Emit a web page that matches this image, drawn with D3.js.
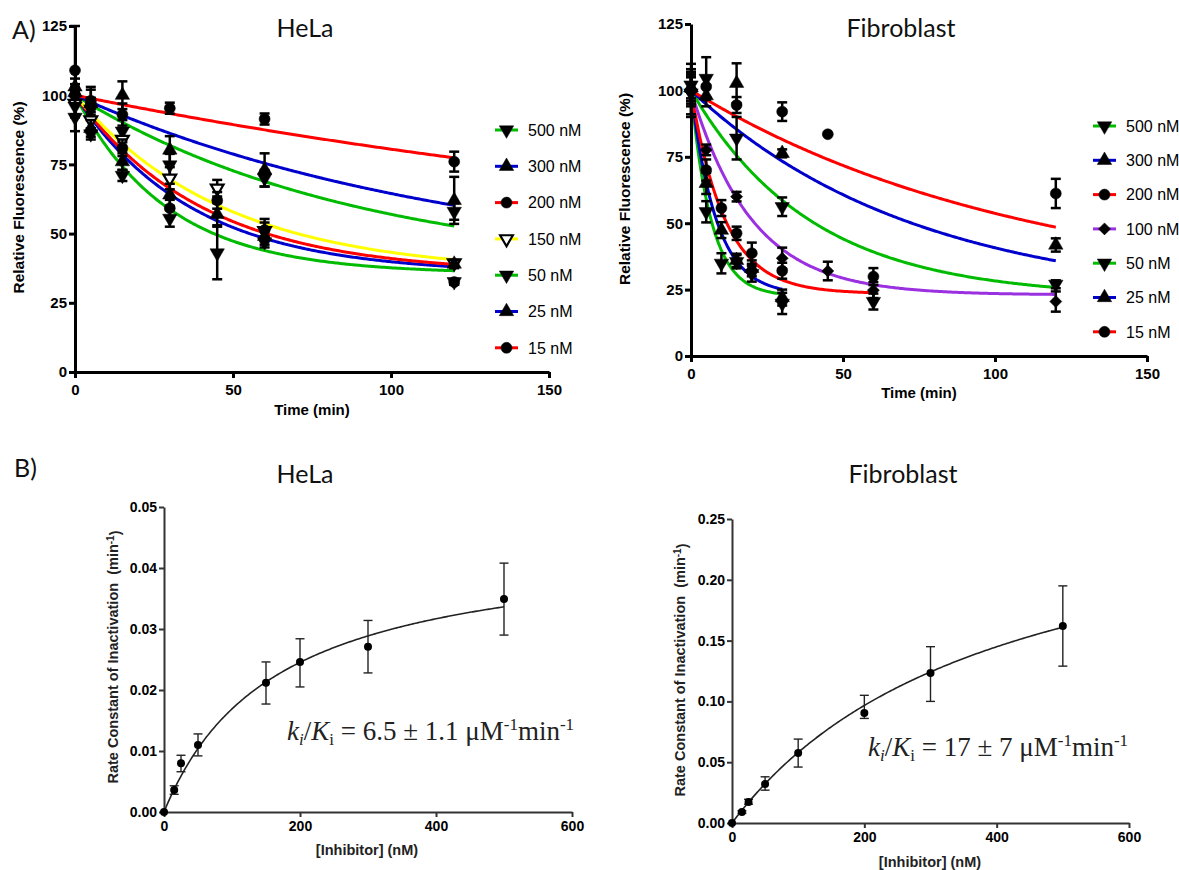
<!DOCTYPE html>
<html><head><meta charset="utf-8">
<script src="https://cdn.jsdelivr.net/npm/d3@7"></script>
<style>body{margin:0;background:#fff} svg{display:block}</style>
</head><body>
<svg id="chart" width="1179" height="870"></svg>
<script>
// ---------------- DATA ----------------
// Panel A, HeLa
const helaConc = ["500 nM","300 nM","200 nM","150 nM","50 nM","25 nM","15 nM"];
const helaColors = ["#00bb00","#0000cc","#ff0000","#ffff00","#00bb00","#0000cc","#ff0000"];
const helaShapes = ["down","up","circle","downOpen","down","up","circle"];
const helaTimes = [0,5,15,30,45,60,120];
const helaMean = [
  [96, 86, 71, 55.5, 43, 47, 32.6],
  [103, 88, 76, 64, 57, 49, 39],
  [100, 97, 81, 59.2, 62, 51.3, 32.5],
  [97, 91, 84, 70, 66.4, 51, 39.4],
  [92, 95, 87, 74.8, null, 70, 58],
  [101, 97, 100, 80.2, null, 73, 62],
  [109, 98, 93, 95.3, null, 91.4, 76]
];
const helaErr = [
  [4, 2, 2, 3, 9.5, 2, 1],
  [3, 3, 3, 4, 4, 3, 1.5],
  [3, 2, 3, 3, 3, 4, 1],
  [4, 3, 4, 4, 3, 3, 1],
  [5, 4, 4, 4, 0, 3, 3],
  [3, 5, 5, 5, 0, 6, 8.5],
  [16, 5, 4, 2, 0, 2, 3.6]
];
// one-phase decay fit parameters (plateau, rate k, last time of fitted curve)
const helaFitPlateau = [35.5, 35.5, 35.5, 35.5, 35.5, 35.5, 35.5];
const helaFitK = [0.034, 0.027, 0.0246, 0.0212, 0.011, 0.008, 0.0036];
const helaFitEnd = [120, 120, 120, 120, 120, 120, 120];

// Panel A, Fibroblast
const fibroConc = ["500 nM","300 nM","200 nM","100 nM","50 nM","25 nM","15 nM"];
const fibroColors = ["#00bb00","#0000cc","#ff0000","#9b30e0","#00bb00","#0000cc","#ff0000"];
const fibroShapes = ["down","up","circle","diamond","down","up","circle"];
const fibroTimes = [0,5,10,15,20,30,45,60,120];
const fibroMean = [
  [99, 54.3, 34.9, 35.5, 31, 19.8, null, 20.5, null],
  [101, 65, 47.4, 36, 33, 22, null, null, null],
  [100, 70, 55.7, 46.2, 38.7, 32.1, null, 29.9, null],
  [100, 77.6, null, 60, null, 36.8, 32, 24.8, 20.5],
  [102, 104.5, null, 82, null, 56.2, null, null, 27],
  [101, 98, null, 102.7, null, 76.3, null, null, 41.8],
  [100, 101.4, null, 94.5, null, 92, 83.5, null, 61.2]
];
const fibroErr = [
  [8, 4, 3.8, 2.5, 3, 4, 0, 3, 0],
  [5, 4, 3, 2.5, 3, 3, 0, 0, 0],
  [6, 4, 3, 2.5, 4, 3, 0, 3.2, 0],
  [5, 2, 0, 1.8, 0, 4, 3.5, 3, 3.8],
  [6, 8, 0, 8, 0, 3.5, 0, 0, 1.5],
  [4, 4, 0, 7.5, 0, 1.5, 0, 0, 2.5],
  [10, 4, 0, 3, 0, 3.5, 0, 0, 5.5]
];
const fibroFitPlateau = [22.5, 23, 23.5, 23, 22, 20, 22];
const fibroFitK = [0.15, 0.12, 0.09, 0.05, 0.0252, 0.0135, 0.009];
const fibroFitEnd = [30, 30, 60, 120, 120, 120, 120];

const timeTicks = [0, 50, 100, 150];
const fluorTicks = [0, 25, 50, 75, 100, 125];

// Panel B, HeLa
const helaBConc = [0, 15, 25, 50, 150, 200, 300, 500];
const helaBRate = [0, 0.0036, 0.0080, 0.0110, 0.0212, 0.0246, 0.0271, 0.0349];
const helaBLow  = [0, 0.0029, 0.0066, 0.0092, 0.0177, 0.0205, 0.0228, 0.0290];
const helaBHigh = [0, 0.0043, 0.0093, 0.0128, 0.0246, 0.0284, 0.0314, 0.0408];
const helaBKinact = 0.0447, helaBKI = 164.5;
const helaBTicks = [0, 0.01, 0.02, 0.03, 0.04, 0.05];

// Panel B, Fibroblast
const fibroBConc = [0, 15, 25, 50, 100, 200, 300, 500];
const fibroBRate = [0, 0.009, 0.0173, 0.032, 0.0575, 0.0905, 0.1234, 0.162];
const fibroBLow  = [0, 0.008, 0.0155, 0.027, 0.046, 0.086, 0.100, 0.129];
const fibroBHigh = [0, 0.010, 0.0195, 0.038, 0.069, 0.105, 0.145, 0.195];
const fibroBKinact = 0.2895, fibroBKI = 399;
const fibroBTicks = [0, 0.05, 0.10, 0.15, 0.20, 0.25];

const concTicks = [0, 200, 400, 600];

// ---------------- DRAWING ----------------
const svg = d3.select("#chart");
const SANS = "'Liberation Sans', Arial, sans-serif";
const TITLE = "Lato, 'Open Sans', sans-serif";
const SERIF = "'Liberation Serif', 'Times New Roman', serif";

function symbolPath(shape) {
  if (shape === "circle") return d3.symbol(d3.symbolCircle, 95)();
  if (shape === "diamond") return d3.symbol(d3.symbolSquare, 72)();
  return d3.symbol(d3.symbolTriangle, 90)();
}
function drawMarker(g, shape, x, y) {
  const rot = (shape === "down" || shape === "downOpen") ? 180 : (shape === "diamond" ? 45 : 0);
  const open = shape === "downOpen";
  g.append("path")
    .attr("d", open ? d3.symbol(d3.symbolTriangle, 70)() : symbolPath(shape))
    .attr("transform", `translate(${x},${y}) rotate(${rot})`)
    .attr("fill", open ? "#fff" : "#000")
    .attr("stroke", "#000")
    .attr("stroke-width", open ? 2.2 : 0.5);
}

function styleAxis(g, width, fontSize) {
  g.select(".domain").attr("stroke", "#000").attr("stroke-width", width);
  g.selectAll(".tick line").attr("stroke", "#000").attr("stroke-width", width);
  g.selectAll(".tick text").attr("fill", "#000")
    .style("font-family", SANS).style("font-weight", "bold").style("font-size", fontSize + "px");
}

function kineticPanel(cfg) {
  const x = d3.scaleLinear().domain([0, 150]).range(cfg.xr);
  const y = d3.scaleLinear().domain([0, 125]).range(cfg.yr);
  const g = svg.append("g");

  // fitted curves
  cfg.conc.forEach((c, i) => {
    const ts = d3.range(0, cfg.fitEnd[i] + 0.001, 0.5);
    const p = cfg.plateau[i], k = cfg.k[i];
    const line = d3.line().x(t => x(t)).y(t => y(p + (100 - p) * Math.exp(-k * t)));
    g.append("path").attr("d", line(ts)).attr("fill", "none")
      .attr("stroke", cfg.colors[i]).attr("stroke-width", 3);
  });

  // axes
  const ax = g.append("g").attr("transform", `translate(0,${cfg.yr[0]})`)
    .call(d3.axisBottom(x).tickValues(timeTicks).tickSize(6).tickSizeOuter(0).tickPadding(6).tickFormat(d3.format("d")));
  styleAxis(ax, 3, 15);
  const ay = g.append("g").attr("transform", `translate(${cfg.xr[0]},0)`)
    .call(d3.axisLeft(y).tickValues(fluorTicks).tickSize(6).tickSizeOuter(0).tickPadding(2).tickFormat(d3.format("d")));
  styleAxis(ay, 3, 15);

  // points with error bars (drawn from bottom of legend order so low concentrations on top)
  for (let i = cfg.conc.length - 1; i >= 0; i--) {
    cfg.times.forEach((t, j) => {
      const m = cfg.mean[i][j];
      if (m === null) return;
      const e = cfg.err[i][j];
      const px = x(t);
      if (e > 0) {
        g.append("line").attr("x1", px).attr("x2", px).attr("y1", y(m - e)).attr("y2", y(m + e))
          .attr("stroke", "#000").attr("stroke-width", 2.5);
        [m - e, m + e].forEach(v => g.append("line").attr("x1", px - 5).attr("x2", px + 5)
          .attr("y1", y(v)).attr("y2", y(v)).attr("stroke", "#000").attr("stroke-width", 2.5));
      }
      drawMarker(g, cfg.shapes[i], px, y(m));
    });
  }

  // legend
  cfg.conc.forEach((c, i) => {
    const ly = cfg.legY0 + i * cfg.legStep;
    g.append("line").attr("x1", cfg.legX).attr("x2", cfg.legX + 23).attr("y1", ly).attr("y2", ly)
      .attr("stroke", cfg.colors[i]).attr("stroke-width", 3);
    drawMarker(g, cfg.shapes[i], cfg.legX + 11.5, ly);
    g.append("text").attr("x", cfg.legX + 33).attr("y", ly).attr("dy", "0.36em")
      .style("font-family", SANS).style("font-size", "16px").text(c);
  });

  // axis titles
  g.append("text").attr("transform", `translate(${cfg.ylabX},${cfg.ylabY}) rotate(-90)`)
    .attr("text-anchor", "middle").attr("dy", "0.35em")
    .style("font-family", SANS).style("font-weight", "bold").style("font-size", "15.5px")
    .text("Relative Fluorescence (%)");
  g.append("text").attr("x", cfg.xlabX).attr("y", cfg.xlabY).attr("text-anchor", "middle").attr("dy", "0.35em")
    .style("font-family", SANS).style("font-weight", "bold").style("font-size", "15px")
    .text("Time (min)");
}

kineticPanel({
  xr: [75, 549], yr: [372, 26], conc: helaConc, colors: helaColors, shapes: helaShapes,
  times: helaTimes, mean: helaMean, err: helaErr,
  plateau: helaFitPlateau, k: helaFitK, fitEnd: helaFitEnd,
  legX: 495, legY0: 130, legStep: 36.3,
  ylabX: 18.5, ylabY: 197.5, xlabX: 312, xlabY: 410
});
kineticPanel({
  xr: [691, 1147], yr: [356, 24], conc: fibroConc, colors: fibroColors, shapes: fibroShapes,
  times: fibroTimes, mean: fibroMean, err: fibroErr,
  plateau: fibroFitPlateau, k: fibroFitK, fitEnd: fibroFitEnd,
  legX: 1093, legY0: 126, legStep: 34.3,
  ylabX: 625, ylabY: 189, xlabX: 919, xlabY: 393
});

function ratePanel(cfg) {
  const x = d3.scaleLinear().domain([0, 600]).range(cfg.xr);
  const y = d3.scaleLinear().domain([0, cfg.yTicks[cfg.yTicks.length - 1]]).range(cfg.yr);
  const g = svg.append("g");

  const cs = d3.range(0, 500.01, 2);
  const line = d3.line().x(c => x(c)).y(c => y(cfg.kinact * c / (cfg.KI + c)));
  g.append("path").attr("d", line(cs)).attr("fill", "none").attr("stroke", "#222").attr("stroke-width", 1.6);

  const ax = g.append("g").attr("transform", `translate(0,${cfg.yr[0]})`)
    .call(d3.axisBottom(x).tickValues(concTicks).tickSize(5).tickSizeOuter(0).tickPadding(4).tickFormat(d3.format("d")));
  styleAxis(ax, 2, 14);
  const ay = g.append("g").attr("transform", `translate(${cfg.xr[0]},0)`)
    .call(d3.axisLeft(y).tickValues(cfg.yTicks).tickSize(5).tickSizeOuter(0).tickPadding(2).tickFormat(d3.format(".2f")));
  styleAxis(ay, 2, 14);
  ax.selectAll(".domain, .tick line").attr("stroke", "#333");
  ay.selectAll(".domain, .tick line").attr("stroke", "#333");

  cfg.conc.forEach((c, i) => {
    const px = x(c);
    if (cfg.high[i] - cfg.low[i] > 0) {
      g.append("line").attr("x1", px).attr("x2", px).attr("y1", y(cfg.low[i])).attr("y2", y(cfg.high[i]))
        .attr("stroke", "#222").attr("stroke-width", 1.4);
      [cfg.low[i], cfg.high[i]].forEach(v => g.append("line").attr("x1", px - 4.5).attr("x2", px + 4.5)
        .attr("y1", y(v)).attr("y2", y(v)).attr("stroke", "#222").attr("stroke-width", 1.4));
    }
    g.append("circle").attr("cx", px).attr("cy", y(cfg.rate[i])).attr("r", 4).attr("fill", "#000");
  });

  // axis titles
  const yl = g.append("text").attr("transform", `translate(${cfg.ylabX},${cfg.ylabY}) rotate(-90)`)
    .attr("text-anchor", "middle").attr("dy", "0.35em")
    .style("font-family", SANS).style("font-weight", "bold").style("font-size", "14.5px").attr("fill", "#222");
  yl.append("tspan").text("Rate Constant of Inactivation\u00a0\u00a0(min");
  yl.append("tspan").attr("dy", "-0.45em").style("font-size", "10px").text("-1");
  yl.append("tspan").attr("dy", "0.45em").text(")");
  g.append("text").attr("x", cfg.xlabX).attr("y", cfg.xlabY).attr("text-anchor", "middle").attr("dy", "0.35em")
    .style("font-family", SANS).style("font-weight", "bold").style("font-size", "14.5px").attr("fill", "#222")
    .text("[Inhibitor] (nM)");

  // annotation
  const t = g.append("text").attr("x", cfg.annX).attr("y", cfg.annY)
    .style("font-family", SERIF).style("font-size", "27px").attr("fill", "#222");
  t.append("tspan").style("font-style", "italic").text("k");
  t.append("tspan").style("font-style", "italic").style("font-size", "17px").attr("dy", "5").text("i");
  t.append("tspan").attr("dy", "-5").text("/");
  t.append("tspan").style("font-style", "italic").text("K");
  t.append("tspan").style("font-size", "17px").attr("dy", "5").text("i");
  t.append("tspan").attr("dy", "-5").text(cfg.annText);
  t.append("tspan").style("font-size", "17px").attr("dy", "-10").text("-1");
  t.append("tspan").attr("dy", "10").text("min");
  t.append("tspan").style("font-size", "17px").attr("dy", "-10").text("-1");
}

ratePanel({
  xr: [164, 572], yr: [812, 507], yTicks: helaBTicks,
  conc: helaBConc, rate: helaBRate, low: helaBLow, high: helaBHigh,
  kinact: helaBKinact, KI: helaBKI,
  ylabX: 113, ylabY: 657, xlabX: 367, xlabY: 850,
  annX: 287, annY: 740, annText: " = 6.5 \u00b1 1.1 \u03bcM"
});
ratePanel({
  xr: [732, 1129], yr: [823, 519], yTicks: fibroBTicks,
  conc: fibroBConc, rate: fibroBRate, low: fibroBLow, high: fibroBHigh,
  kinact: fibroBKinact, KI: fibroBKI,
  ylabX: 680, ylabY: 670, xlabX: 930, xlabY: 862,
  annX: 868, annY: 756, annText: " = 17 \u00b1 7 \u03bcM"
});

// titles and panel letters
function label(txt, x, y, size, anchor) {
  svg.append("text").attr("x", x).attr("y", y).attr("text-anchor", anchor || "middle")
    .style("font-family", TITLE).style("font-size", size + "px").attr("fill", "#111").text(txt);
}
label("HeLa", 305, 37, 25);
label("Fibroblast", 901, 37, 25);
label("HeLa", 305, 483, 25);
label("Fibroblast", 903, 483, 25);
label("A)", 12, 39, 25, "start");
label("B)", 14, 477, 25, "start");
</script>
</body></html>
